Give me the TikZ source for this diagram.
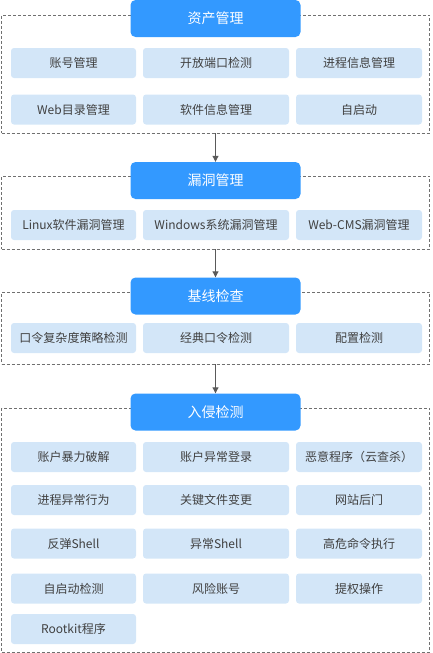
\documentclass[tikz,border=0pt]{standalone}
\usepackage{fontspec}
\setmainfont{Noto Sans CJK SC}
\usetikzlibrary{arrows.meta}
\definecolor{headblue}{HTML}{3399FF}
\definecolor{itemblue}{HTML}{D3E6F8}
\definecolor{textgray}{HTML}{404040}
\definecolor{framegray}{HTML}{707070}
\definecolor{arrowgray}{HTML}{5A5A5A}

\begin{document}
\begin{tikzpicture}[x=1pt,y=-1pt,
    head/.style={fill=headblue,rounded corners=5pt,text=white,font=\fontsize{14}{16}\selectfont,
        minimum width=170pt,minimum height=37pt,inner sep=0pt},
    item/.style={fill=itemblue,rounded corners=3pt,text=textgray,font=\fontsize{12}{14}\selectfont,
        minimum height=30pt,inner sep=0pt},
    colone/.style={item,minimum width=125pt},
    coltwo/.style={item,minimum width=146pt},
    colthree/.style={item,minimum width=126pt},
    group/.style={draw=framegray,dash pattern=on 3pt off 2pt,line width=0.8pt,inner sep=0pt,minimum width=428pt},
    flow/.style={draw=arrowgray,line width=1pt,-{Triangle[length=6pt,width=6pt]}}]
    \useasboundingbox (0,0) rectangle (432,653);

    % frames
    \node[group,minimum height=118pt] (grpasset) at (215.5,74) {};
    \node[group,minimum height=73pt] (grpvuln) at (215.5,212.5) {};
    \node[group,minimum height=72pt] (grpbase) at (215.5,328) {};
    \node[group,minimum height=244pt] (grpintr) at (215.5,530) {};

    % 资产管理
    \node[head] (hasset) at (215.5,18.5) {资产管理};
    \node[colone] (a1) at (73.5,63) {账号管理};
    \node[coltwo] (a2) at (216,63) {开放端口检测};
    \node[colthree] (a3) at (359,63) {进程信息管理};
    \node[colone] (a4) at (73.5,109.5) {Web目录管理};
    \node[coltwo] (a5) at (216,109.5) {软件信息管理};
    \node[colthree] (a6) at (359,109.5) {自启动};

    % 漏洞管理
    \node[head] (hvuln) at (215.5,180.5) {漏洞管理};
    \node[colone] (v1) at (73.5,225) {Linux软件漏洞管理};
    \node[coltwo] (v2) at (216,225) {Windows系统漏洞管理};
    \node[colthree] (v3) at (359,225) {Web-CMS漏洞管理};

    % 基线检查
    \node[head] (hbase) at (215.5,296) {基线检查};
    \node[colone] (b1) at (73.5,338) {口令复杂度策略检测};
    \node[coltwo] (b2) at (216,338) {经典口令检测};
    \node[colthree] (b3) at (359,338) {配置检测};

    % 入侵检测
    \node[head] (hintr) at (215.5,412) {入侵检测};
    \node[colone] (i1) at (73.5,457) {账户暴力破解};
    \node[coltwo] (i2) at (216,457) {账户异常登录};
    \node[colthree] (i3) at (359,457) {恶意程序（云查杀）};
    \node[colone] (i4) at (73.5,500) {进程异常行为};
    \node[coltwo] (i5) at (216,500) {关键文件变更};
    \node[colthree] (i6) at (359,500) {网站后门};
    \node[colone] (i7) at (73.5,543.5) {反弹Shell};
    \node[coltwo] (i8) at (216,543.5) {异常Shell};
    \node[colthree] (i9) at (359,543.5) {高危命令执行};
    \node[colone] (i10) at (73.5,588.5) {自启动检测};
    \node[coltwo] (i11) at (216,588.5) {风险账号};
    \node[colthree] (i12) at (359,588.5) {提权操作};
    \node[colone] (i13) at (73.5,629) {Rootkit程序};

    % arrows
    \draw[flow] (grpasset.south) -- (hvuln.north);
    \draw[flow] (grpvuln.south) -- (hbase.north);
    \draw[flow] (grpbase.south) -- (hintr.north);
\end{tikzpicture}
\end{document}
